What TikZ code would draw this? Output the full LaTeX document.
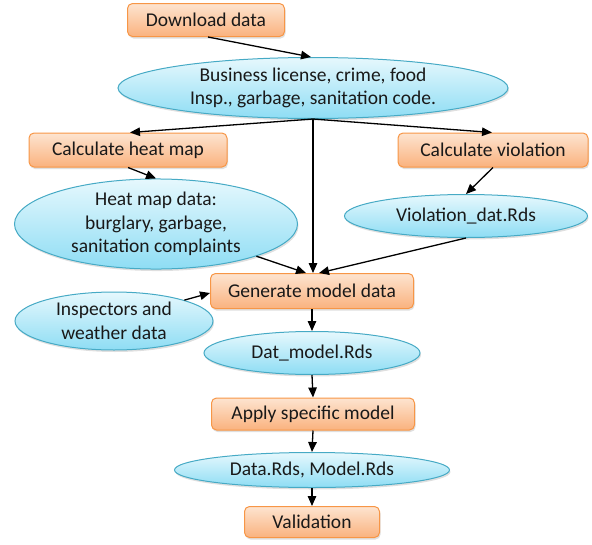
\documentclass[tikz,border=0pt]{standalone}
\usepackage{fontspec}
\setmainfont{Carlito}
\usetikzlibrary{shapes.geometric,arrows.meta,shadows}
\definecolor{boxborder}{HTML}{F79646}
\definecolor{boxtop}{HTML}{FDE4D0}
\definecolor{boxbot}{HTML}{FAB27E}
\definecolor{ellborder}{HTML}{46AAC5}
\definecolor{elltop}{HTML}{E6F8FD}
\definecolor{ellbot}{HTML}{8EDDF4}
\tikzset{
  stepbox/.style={draw=boxborder, line width=1pt, rounded corners=5pt, top color=boxtop, bottom color=boxbot,
    inner sep=0pt, align=center, font=\fontsize{19.5}{23.5}\selectfont, text=black!90,
    drop shadow={shadow xshift=1pt, shadow yshift=-2pt, opacity=0.25}},
  dataell/.style={draw=ellborder, line width=1pt, ellipse, top color=elltop, bottom color=ellbot,
    inner sep=0pt, align=center, font=\fontsize{19.5}{23.5}\selectfont, text=black!90,
    drop shadow={shadow xshift=1pt, shadow yshift=-2pt, opacity=0.25}},
  conn/.style={line width=1.3pt, -{Triangle[length=10pt,width=8.5pt]}}
}
\begin{document}
\begin{tikzpicture}[x=1pt,y=-1pt]
\useasboundingbox (0,0) rectangle (592,544);
\node[stepbox, minimum width=157pt, minimum height=33pt] (dl) at (206,20) {Download data};
\node[dataell, minimum width=390pt, minimum height=61pt] (src) at (313,88) {Business license, crime, food\\Insp., garbage, sanitation code.};
\node[stepbox, minimum width=198pt, minimum height=34pt] (heat) at (128,150) {Calculate heat map};
\node[stepbox, minimum width=190pt, minimum height=34pt] (viol) at (493,150) {Calculate violation};
\node[dataell, minimum width=283pt, minimum height=78pt] (heatdat) at (156,224) {Heat map data:\\burglary, garbage,\\sanitation complaints};
\node[dataell, minimum width=243pt, minimum height=43pt] (violdat) at (466,216) {Violation\_dat.Rds};
\node[stepbox, minimum width=203pt, minimum height=35pt] (gen) at (312,291) {Generate model data};
\node[dataell, minimum width=198pt, minimum height=58pt] (insp) at (114,321) {Inspectors and\\weather data};
\node[dataell, minimum width=216pt, minimum height=43pt] (datmod) at (312,353) {Dat\_model.Rds};
\node[stepbox, minimum width=203pt, minimum height=32pt] (apply) at (313,414) {Apply specific model};
\node[dataell, minimum width=275pt, minimum height=35pt] (rds) at (312,470) {Data.Rds, Model.Rds};
\node[stepbox, minimum width=135pt, minimum height=31pt] (val) at (312,522) {Validation};
\draw[conn] ([xshift=2pt]dl.south) -- ([xshift=-2pt]src.north);
\draw[conn] (src.south) -- ([xshift=2pt]heat.north);
\draw[conn] (src.south) -- ([xshift=-1pt]viol.north);
\draw[conn] (src.south) -- ([xshift=1pt]gen.north);
\draw[conn] (heat.south) -- (heatdat.north);
\draw[conn] (viol.south) -- (violdat.north);
\draw[conn] (heatdat.south east) -- ([xshift=-6pt]gen.north);
\draw[conn] (violdat.south) -- ([xshift=7pt]gen.north);
\draw[conn] (insp.north east) -- ([yshift=-2pt]gen.west);
\draw[conn] (gen.south) -- (datmod.north);
\draw[conn] (datmod.south) -- (apply.north);
\draw[conn] (apply.south) -- (rds.north);
\draw[conn] (rds.south) -- (val.north);
\end{tikzpicture}
\end{document}
